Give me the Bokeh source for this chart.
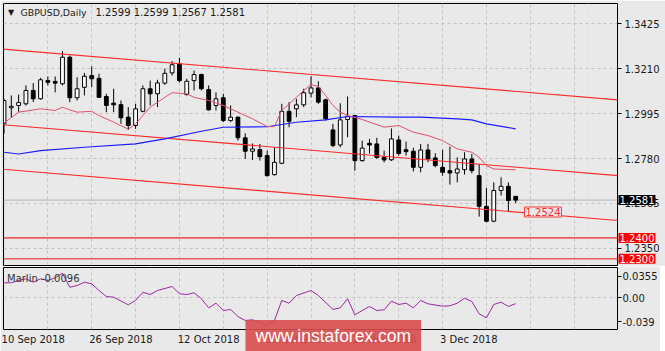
from bokeh.plotting import figure
from bokeh.models import Range1d, FixedTicker, Label, Grid, ColumnDataSource, Span
from bokeh.layouts import column
from bokeh.embed import file_html
from bokeh.resources import INLINE

# ---------------- data ----------------
bars = list(range(71))
opens = [1.2946, 1.3023, 1.3034, 1.3042, 1.3106, 1.3066, 1.3153, 1.3149, 1.3138, 1.3265,
         1.3071, 1.3121, 1.3177, 1.3164, 1.3077, 1.3045, 1.3038, 1.2978, 1.2938, 1.3006,
         1.3114, 1.3090, 1.3141, 1.3190, 1.3233, 1.3086, 1.3153, 1.3182, 1.3110, 1.3034,
         1.3071, 1.2962, 1.2978, 1.2879, 1.2815, 1.2823, 1.2794, 1.2703, 1.2757, 1.3006,
         1.3018, 1.3037, 1.3093, 1.3118, 1.3061, 1.2917, 1.2845, 1.2967, 1.2986, 1.2770,
         1.2853, 1.2850, 1.2785, 1.2774, 1.2869, 1.2822, 1.2815, 1.2738, 1.2821, 1.2783,
         1.2738, 1.2722, 1.2711, 1.2727, 1.2778, 1.2698, 1.2551, 1.2480, 1.2627, 1.2647,
         1.2599]
highs = [1.3067, 1.3082, 1.3086, 1.3130, 1.3141, 1.3166, 1.3173, 1.3173, 1.3294, 1.3273,
         1.3169, 1.3190, 1.3221, 1.3186, 1.3090, 1.3114, 1.3058, 1.3026, 1.3042, 1.3130,
         1.3153, 1.3157, 1.3210, 1.3246, 1.3262, 1.3162, 1.3201, 1.3186, 1.3130, 1.3097,
         1.3090, 1.3034, 1.2981, 1.2901, 1.2852, 1.2850, 1.2818, 1.2834, 1.3042, 1.3050,
         1.3066, 1.3114, 1.3174, 1.3150, 1.3066, 1.2946, 1.3045, 1.3077, 1.2989, 1.2866,
         1.2874, 1.2879, 1.2818, 1.2924, 1.2890, 1.2861, 1.2832, 1.2850, 1.2850, 1.2805,
         1.2822, 1.2837, 1.2786, 1.2810, 1.2802, 1.2754, 1.2639, 1.2666, 1.2690, 1.2666,
         1.2599]
lows = [1.2900, 1.2978, 1.3002, 1.3034, 1.3050, 1.3062, 1.3130, 1.3097, 1.3130, 1.3050,
        1.3058, 1.3082, 1.3121, 1.3070, 1.3002, 1.3002, 1.2946, 1.2917, 1.2922, 1.3002,
        1.3034, 1.3026, 1.3133, 1.3177, 1.3145, 1.3082, 1.3106, 1.3106, 1.3010, 1.3010,
        1.2954, 1.2954, 1.2866, 1.2778, 1.2773, 1.2770, 1.2694, 1.2698, 1.2754, 1.2930,
        1.2978, 1.3026, 1.3073, 1.3042, 1.2962, 1.2834, 1.2834, 1.2882, 1.2722, 1.2765,
        1.2804, 1.2778, 1.2762, 1.2768, 1.2794, 1.2794, 1.2718, 1.2714, 1.2762, 1.2738,
        1.2698, 1.2655, 1.2666, 1.2703, 1.2709, 1.2502, 1.2475, 1.2475, 1.2603, 1.2526,
        1.2567]
closes = [1.3058, 1.3030, 1.3048, 1.3106, 1.3066, 1.3157, 1.3145, 1.3141, 1.3265, 1.3071,
          1.3114, 1.3174, 1.3162, 1.3073, 1.3034, 1.3037, 1.2975, 1.2938, 1.3018, 1.3114,
          1.3090, 1.3142, 1.3188, 1.3229, 1.3153, 1.3150, 1.3182, 1.3114, 1.3013, 1.3066,
          1.2962, 1.2978, 1.2879, 1.2815, 1.2826, 1.2789, 1.2698, 1.2762, 1.3006, 1.2958,
          1.3037, 1.3095, 1.3118, 1.3050, 1.2970, 1.2842, 1.2965, 1.2982, 1.2770, 1.2830,
          1.2845, 1.2785, 1.2773, 1.2874, 1.2804, 1.2813, 1.2738, 1.2821, 1.2778, 1.2746,
          1.2714, 1.2711, 1.2730, 1.2778, 1.2722, 1.2551, 1.2480, 1.2627, 1.2647, 1.2579,
          1.2581]

ma_fast_bar = [0, 2, 5, 7, 8, 9, 10, 12, 13, 15, 17, 18, 20, 22, 23, 25, 26, 28, 30, 32,
               34, 36, 37, 38, 40, 41, 42, 43, 44, 45, 46, 47, 49, 52, 54, 56, 58, 60, 62,
               64, 65, 66, 67, 70]
ma_fast = [1.2950, 1.3002, 1.3018, 1.3010, 1.3026, 1.3013, 1.3002, 1.3006, 1.2986, 1.2954,
           1.2920, 1.2946, 1.3026, 1.3073, 1.3095, 1.3090, 1.3073, 1.3058, 1.3034, 1.3002,
           1.2970, 1.2933, 1.2933, 1.3010, 1.3073, 1.3106, 1.3134, 1.3125, 1.3082, 1.3034,
           1.3002, 1.2986, 1.2967, 1.2930, 1.2938, 1.2906, 1.2890, 1.2866, 1.2826, 1.2810,
           1.2786, 1.2746, 1.2730, 1.2726]

ma_slow_bar = [0, 2, 5, 11, 18, 22, 27, 30, 36, 40, 44, 47, 54, 57, 62, 64, 66, 70]
ma_slow = [1.2810, 1.2802, 1.2818, 1.2834, 1.2850, 1.2874, 1.2911, 1.2930, 1.2932, 1.2954,
           1.2965, 1.2981, 1.2978, 1.2978, 1.2970, 1.2965, 1.2946, 1.2922]

channel_bar = [-0.5, 84.0]
channel_top = [1.3305, 1.3061]
channel_mid = [1.2943, 1.2698]
channel_low = [1.2730, 1.2483]

levels = [1.2400, 1.2300]
last_price = 1.2581
channel_now = 1.2524

marlin_bar = [0, 1, 2, 3, 4, 5, 6, 7, 8, 9, 10, 11, 12, 13, 14, 15, 17, 18, 19, 20, 21,
              23, 24, 25, 26, 27, 28, 29, 30, 31, 32, 33, 34, 35, 36, 37, 38, 39, 40, 42,
              43, 45, 46, 47, 48, 49, 50, 51, 52, 53, 54, 55, 56, 57, 58, 60, 61, 62, 63,
              64, 65, 66, 67, 68, 69, 70]
marlin = [0.0247, 0.0247, 0.0285, 0.0313, 0.0257, 0.0313, 0.0285, 0.0329, 0.0405, 0.0174,
          0.0202, 0.0257, 0.0230, 0.0120, 0.0021, 0.0010, -0.0115, -0.0044, 0.0092, 0.0054,
          0.0120, 0.0186, 0.0066, 0.0054, 0.0082, -0.0016, -0.0165, -0.0089, -0.0209, -0.0192,
          -0.0308, -0.0373, -0.0362, -0.0401, -0.0456, -0.0373, -0.0044, -0.0089, 0.0038,
          0.0120, 0.0038, -0.0191, -0.0165, -0.0016, -0.0280, -0.0209, -0.0143, -0.0209,
          -0.0197, -0.0056, -0.0110, -0.0089, -0.0165, -0.0044, -0.0099, -0.0138, -0.0132,
          -0.0089, -0.0007, -0.0061, -0.0263, -0.0329, -0.0110, -0.0072, -0.0143, -0.0096]

price_ticks = [1.3425, 1.3210, 1.2995, 1.2780, 1.2565, 1.2350]
osc_ticks = [0.0355, 0.0, -0.039]
osc_tick_labels = ["0.0355", "0.00", "-0.039"]
date_bars = [0, 12, 24, 36, 48, 60]
date_labels = ["10 Sep 2018", "26 Sep 2018", "12 Oct 2018", "30 Oct 2018", "15 Nov 2018", "3 Dec 2018"]
grid_bars = [6, 12, 18, 24, 30, 36, 42, 48, 54, 60, 66, 72, 78]

symbol = "GBPUSD,Daily"
ohlc_text = "1.2599 1.2599 1.2567 1.2581"
osc_name = "Marlin -0.0096"
watermark = "www.instaforex.com"

# ---------------- layout geometry ----------------
BG = "#e9e9e9"
GRID = "#c3c3c3"
TXT = "#1a1a1a"
FONT = "DejaVu Sans"
FL, FR = 3, 617
MT, MB = 3, 265
OT, OB = 267, 329
BAR_PX = 7.31
X0 = -0.5 / BAR_PX
X1 = X0 + (FR - FL) / BAR_PX
P_TOP, P_BOT = 1.35222, 1.22679
O_TOP, O_BOT = 0.04984, -0.05215


def px_x(px):
    return X0 + (px - FL) / BAR_PX


def px_p(py):
    return P_TOP - (py - MT) * (P_TOP - P_BOT) / (MB - MT)


def px_o(py):
    return O_TOP - (py - OT) * (O_TOP - O_BOT) / (OB - OT)


def make_label(x, y, text, size="10px", color=TXT, align="left", font=FONT, **kw):
    return Label(x=x, y=y, text=text, text_font=font, text_font_size=size,
                 text_color=color, text_align=align, text_baseline="middle", **kw)


def style_axis(ax):
    ax.axis_line_color = None
    ax.major_tick_line_color = "black"
    ax.major_tick_out = 4
    ax.major_tick_in = 0
    ax.minor_tick_line_color = None
    ax.major_label_text_font = FONT
    ax.major_label_text_font_size = "10px"
    ax.major_label_text_color = TXT


# ---------------- main panel ----------------
p = figure(frame_width=FR - FL, frame_height=MB - MT, output_backend="svg",
           toolbar_location=None,
           x_range=Range1d(X0, X1), y_range=Range1d(P_BOT, P_TOP),
           x_axis_location=None, y_axis_location="right",
           min_border_left=FL, min_border_right=0, min_border_top=MT,
           min_border_bottom=266 - MB,
           background_fill_color=BG, border_fill_color=BG,
           outline_line_color="black", outline_line_width=1)
p.yaxis.ticker = FixedTicker(ticks=price_ticks)
p.yaxis.major_label_overrides = {t: f"{t:.4f}" for t in price_ticks}
p.yaxis.major_label_standoff = 3
style_axis(p.yaxis[0])
p.ygrid.grid_line_color = GRID
p.ygrid.grid_line_dash = "3 3"
p.add_layout(Grid(dimension=0, ticker=FixedTicker(ticks=grid_bars),
                  grid_line_color=GRID, grid_line_dash="3 3"))

p.add_layout(Span(location=last_price, dimension="width", line_color="#b4b4b4",
                  line_width=1, level="underlay"))

body_top = [max(o, c) for o, c in zip(opens, closes)]
body_bot = [min(o, c) for o, c in zip(opens, closes)]
fills = ["white" if c >= o else "black" for o, c in zip(opens, closes)]
src = ColumnDataSource(dict(x=bars, o=opens, h=highs, l=lows, c=closes,
                            top=body_top, bot=body_bot, fill=fills))
p.segment(x0="x", y0="l", x1="x", y1="h", source=src, line_color="black", line_width=1)
p.vbar(x="x", width=0.52, top="top", bottom="bot", source=src,
       fill_color="fill", line_color="black", line_width=1)

for ch in (channel_top, channel_mid, channel_low):
    p.line(channel_bar, ch, line_color="#ff2a2a", line_width=1.1)

for lv in levels:
    p.add_layout(Span(location=lv, dimension="width", line_color="#f05c5c",
                      line_width=1.6))

p.line(ma_slow_bar, ma_slow, line_color="#1a1aff", line_width=1.1)
p.line(ma_fast_bar, ma_fast, line_color="#e0506e", line_width=1)

p.add_layout(make_label(px_x(10.5), px_p(12), "\u25bc", size="8px", align="center"))
p.add_layout(make_label(px_x(20), px_p(12), symbol, size="9.4px"))
p.add_layout(make_label(px_x(95), px_p(12), ohlc_text))

p.add_layout(make_label(px_x(524), channel_now, f"{channel_now:.4f}", color="#ff2a2a",
                        background_fill_color=BG, background_fill_alpha=1.0,
                        border_line_color="#ff3a3a", border_line_width=1, padding=1))

# price boxes over the right scale (side-panel labels are not clipped to the frame)
p.add_layout(make_label(X1, last_price, f"{last_price:.4f}", color="white", x_offset=1,
                        background_fill_color="black", padding=1), "right")
for lv in levels:
    p.add_layout(make_label(X1, lv, f"{lv:.4f}", color="white", x_offset=1,
                            background_fill_color="#ff0000", padding=1), "right")

# ---------------- oscillator panel ----------------
q = figure(frame_width=FR - FL, frame_height=OB - OT, output_backend="svg",
           toolbar_location=None,
           x_range=p.x_range, y_range=Range1d(O_BOT, O_TOP),
           y_axis_location="right",
           min_border_left=FL, min_border_right=0, min_border_top=OT - 266,
           min_border_bottom=0,
           background_fill_color=BG, border_fill_color=BG,
           outline_line_color="black", outline_line_width=1)
q.yaxis.ticker = FixedTicker(ticks=osc_ticks)
q.yaxis.major_label_overrides = dict(zip(osc_ticks, osc_tick_labels))
q.yaxis.major_label_standoff = 1
style_axis(q.yaxis[0])

date_pos = [b + (len(t) * 5.95 / 2 - 3.5) / BAR_PX for b, t in zip(date_bars, date_labels)]
q.xaxis.ticker = FixedTicker(ticks=date_pos)
q.xaxis.major_label_overrides = dict(zip(date_pos, date_labels))
style_axis(q.xaxis[0])
q.xaxis.major_tick_line_color = None
q.xaxis.major_tick_out = 0
q.xaxis.major_label_standoff = 4
q.xgrid.ticker = FixedTicker(ticks=grid_bars)
q.xgrid.grid_line_color = GRID
q.xgrid.grid_line_dash = "3 3"
q.ygrid.ticker = FixedTicker(ticks=[0.0])
q.ygrid.grid_line_color = GRID
q.ygrid.grid_line_dash = "3 3"

q.line(marlin_bar, marlin, line_color="#9c27a0", line_width=1)
q.add_layout(make_label(px_x(6.5), px_o(277.5), osc_name, color="#333333"))

q.add_layout(make_label(px_x(245), px_o(335.5), watermark, size="17.5px", color="white",
                        font="Liberation Sans", background_fill_color="#d84c4c",
                        background_fill_alpha=0.9,
                        padding=dict(left=10, right=10, top=6, bottom=6)), "below")

layout = column(p, q, spacing=0)

# the extra label panels make the canvases a bit larger than the window: hide scrollbars
page_template = """
{% block postamble %}
<style>html, body { overflow: hidden; margin: 0; padding: 0; }</style>
{% endblock %}
"""
open("out.html", "w").write(file_html(layout, INLINE, template=page_template))
